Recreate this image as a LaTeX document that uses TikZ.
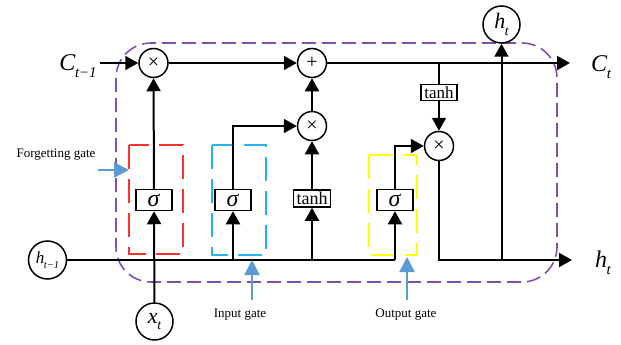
\documentclass[tikz,border=0pt]{standalone}
\usepackage{fontspec}
\setmainfont{Liberation Serif}
\usetikzlibrary{arrows.meta, positioning}

\definecolor{cellpurple}{RGB}{128,80,176}
\definecolor{forgetred}{RGB}{255,50,50}
\definecolor{inputblue}{RGB}{40,180,240}
\definecolor{outyellow}{RGB}{255,255,0}
\definecolor{noteblue}{RGB}{91,155,213}

% italic letter with lowered subscript
\newcommand{\varsub}[2]{\textit{#1}\kern-0.02em\raisebox{-0.3em}{\fontsize{0.62em}{0.7em}\selectfont\itshape #2}}

\begin{document}
\begin{tikzpicture}[x=1pt, y=-1pt, line width=2pt,
    >={Triangle[length=13pt,width=14pt]},
    op/.style={circle, draw, line width=1.5pt, minimum size=29pt, inner sep=0pt, font=\fontsize{20}{22}\selectfont},
    var/.style={circle, draw, line width=1.5pt, minimum size=37pt, inner sep=0pt, font=\fontsize{22}{24}\selectfont},
    act/.style={rectangle, draw, line width=1.5pt, minimum width=36pt, minimum height=21pt, inner sep=1pt, font=\fontsize{24}{26}\selectfont},
    gatebox/.style={line width=1.5pt, dash pattern=on 24pt off 10pt},
    note/.style={font=\fontsize{13}{15}\selectfont},
    noteline/.style={noteblue, line width=2.5pt, -{Triangle[length=15pt,width=15pt]}}]
    \useasboundingbox (0,0) rectangle (621,345);

    % cell border and gate frames
    \draw[cellpurple, line width=1.6pt, dash pattern=on 14pt off 6pt, rounded corners=35pt] (116,43) rectangle (557,282);
    \draw[forgetred, gatebox] (129,145) rectangle (183,254);
    \draw[inputblue, gatebox] (212,145) rectangle (266,255);
    \draw[outyellow, gatebox] (369,155) rectangle (417,255);

    % operations
    \node[op] (mult1) at (153.5,63) {×};
    \node[op] (plus) at (312,63) {+};
    \node[op] (mult2) at (312,126) {×};
    \node[op] (mult3) at (439,146) {×};
    \node[act] (sig1) at (154,200) {\textit{σ}};
    \node[act] (sig2) at (233,200) {\textit{σ}};
    \node[act, minimum width=37pt, minimum height=17pt, font=\fontsize{18}{20}\selectfont] (tanh1) at (312,198.5) {tanh};
    \node[act] (sig3) at (395,200) {\textit{σ}};
    \node[act, minimum width=36pt, minimum height=16pt, font=\fontsize{17}{19}\selectfont] (tanh2) at (439,92.5) {tanh};

    % inputs and outputs
    \node[var] (htop) at (501.5,24.5) {\varsub{h}{t}};
    \node[var, minimum size=38pt, font=\fontsize{17}{19}\selectfont] (hprev) at (47.5,260) {\varsub{h}{t−1}};
    \node[var] (xt) at (154.5,321.5) {\varsub{x}{t}};
    \node[font=\fontsize{24}{26}\selectfont] (cprev) at (78,66) {\varsub{C}{t−1}};
    \node[font=\fontsize{24}{26}\selectfont] (cnext) at (601,67) {\varsub{C}{t}};
    \node[font=\fontsize{24}{26}\selectfont] (hnext) at (603,263) {\varsub{h}{t}};

    \coordinate (cin) at (100,63);
    \coordinate (cout) at (570,63);
    \coordinate (hout) at (572,260);
    \coordinate (hjoin) at (395,260);
    \coordinate (tjoin) at (439,63);
    \coordinate (ocorner) at (439,260);
    \coordinate (htap) at (501.5,260);

    % cell state
    \draw[->] (cin) -- (mult1);
    \draw[->] (mult1) -- (plus);
    \draw[->] (plus) -- (cout);
    \draw (tjoin) -- (tanh2);
    \draw[->] (tanh2) -- (mult3);

    % hidden state and gates
    \draw (hprev) -- (hjoin);
    \draw[->] (xt) -- (sig1);
    \draw[->] (sig1) -- (mult1);
    \draw[->] (sig2.south |- hjoin) -- (sig2);
    \draw[->] (sig2) |- (mult2);
    \draw[->] (tanh1.south |- hjoin) -- (tanh1);
    \draw[->] (tanh1) -- (mult2);
    \draw[->] (mult2) -- (plus);
    \draw[->] (hjoin) -- (sig3);
    \draw[->] (sig3) |- (mult3);
    \draw[->] (mult3) -- (ocorner) -- (hout);
    \draw[->] (htap) -- (htop);

    % annotations
    \node[note] (fnote) at (56,155) {Forgetting gate};
    \node[note] (inote) at (240,315) {Input gate};
    \node[note] (onote) at (406,315) {Output gate};
    \coordinate (ftail) at (98,170);
    \coordinate (fhead) at (129,170);
    \draw[noteline] (ftail) -- (fhead);
    \draw[noteline] (252,300) -- (252,260);
    \draw[noteline] (407,300) -- (407,257);
\end{tikzpicture}
\end{document}
